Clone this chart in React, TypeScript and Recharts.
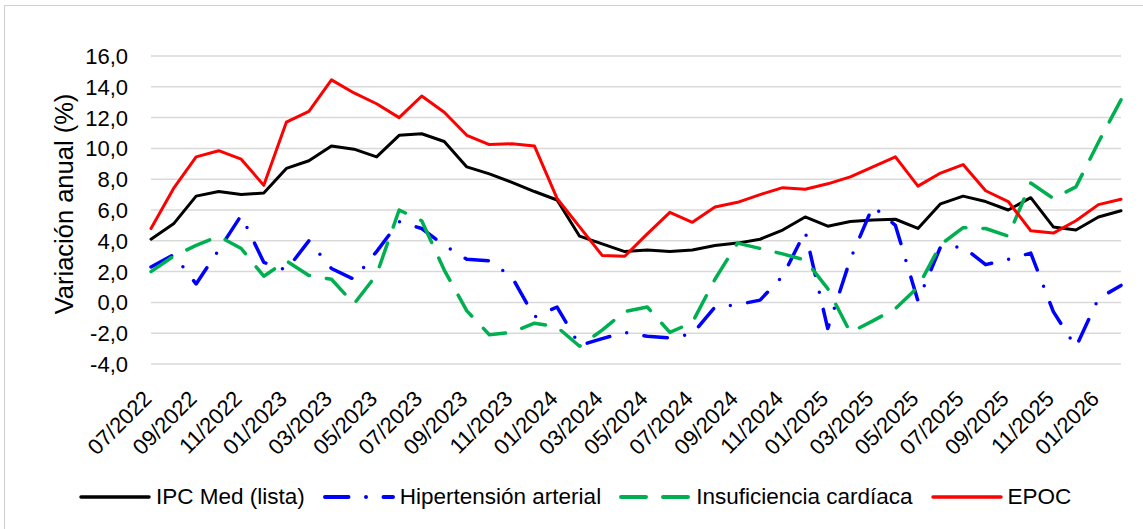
import React from 'react';
import { LineChart, Line, XAxis, YAxis, CartesianGrid } from 'recharts';

const months = [
  '07/2022', '08/2022', '09/2022', '10/2022', '11/2022', '12/2022',
  '01/2023', '02/2023', '03/2023', '04/2023', '05/2023', '06/2023',
  '07/2023', '08/2023', '09/2023', '10/2023', '11/2023', '12/2023',
  '01/2024', '02/2024', '03/2024', '04/2024', '05/2024', '06/2024',
  '07/2024', '08/2024', '09/2024', '10/2024', '11/2024', '12/2024',
  '01/2025', '02/2025', '03/2025', '04/2025', '05/2025', '06/2025',
  '07/2025', '08/2025', '09/2025', '10/2025', '11/2025', '12/2025',
  '01/2026', '02/2026',
];

const ipcMed = [
  4.1, 5.1, 6.9, 7.2, 7.0, 7.1, 8.7, 9.2, 10.15, 9.95, 9.45, 10.85,
  10.95, 10.45, 8.8, 8.35, 7.8, 7.2, 6.65, 4.3, 3.8, 3.3, 3.4, 3.3,
  3.4, 3.7, 3.85, 4.1, 4.7, 5.55, 4.95, 5.25, 5.35, 5.4, 4.8, 6.4,
  6.9, 6.55, 6.0, 6.8, 4.9, 4.7, 5.55, 5.95,
];

const hipertension = [
  2.3, 3.1, 1.2, 3.4, 5.65, 2.6, 2.1, 4.0, 2.2, 1.5, 3.3, 5.25,
  4.8, 3.7, 2.8, 2.7, 1.65, -0.95, -0.3, -2.8, -2.35, -1.95, -2.2, -2.3,
  -2.05, -0.3, -0.15, 0.15, 1.7, 4.6, -1.7, 2.8, 6.25, 5.0, 0.1, 3.6,
  3.6, 2.45, 2.8, 3.2, -0.6, -2.9, 0.25, 1.1,
];

const insuficiencia = [
  2.0, 3.0, 3.7, 4.3, 3.5, 1.7, 2.7, 1.75, 1.5, -0.1, 1.8, 6.0,
  5.3, 2.1, -0.55, -2.1, -1.95, -1.35, -1.6, -2.85, -1.8, -0.6, -0.3, -1.95,
  -1.3, 1.5, 3.85, 3.5, 3.15, 2.75, 0.9, -1.95, -1.2, -0.4, 1.0, 3.75,
  4.85, 4.8, 4.3, 7.75, 6.75, 7.5, 10.4, 13.15,
];

const epoc = [
  4.8, 7.4, 9.45, 9.85, 9.3, 7.6, 11.7, 12.4, 14.45, 13.6, 12.9, 12.0,
  13.4, 12.35, 10.85, 10.25, 10.3, 10.15, 6.75, 4.9, 3.05, 3.0, 4.45, 5.85,
  5.2, 6.2, 6.5, 7.0, 7.45, 7.35, 7.7, 8.15, 8.8, 9.45, 7.55, 8.4,
  8.95, 7.25, 6.55, 4.65, 4.5, 5.3, 6.35, 6.7,
];

const yTicks = [-4, -2, 0, 2, 4, 6, 8, 10, 12, 14, 16];

const data = months.map((m, i) => ({
  month: m,
  ipc: ipcMed[i],
  hta: hipertension[i],
  ic: insuficiencia[i],
  epoc: epoc[i],
}));

const series = [
  { key: 'ipc', name: 'IPC Med (lista)', color: '#000000', width: 3, dash: undefined as string | undefined },
  { key: 'hta', name: 'Hipertensión arterial', color: '#0000FF', width: 3.5, dash: '23.5 17.5 0 17.5' },
  { key: 'ic', name: 'Insuficiencia cardíaca', color: '#00B050', width: 3.5, dash: '25 17' },
  { key: 'epoc', name: 'EPOC', color: '#FF0000', width: 3, dash: undefined as string | undefined },
];

const FONT = '"Liberation Sans", Arial, sans-serif';

const fmt = (v: number) => v.toFixed(1).replace('.', ',');

const YTick = (props: any) => {
  const { y, payload } = props;
  return (
    <text x={128} y={y} dy="0.36em" textAnchor="end" fontSize={22} fontFamily={FONT} fill="#000">
      {fmt(payload.value)}
    </text>
  );
};

const XTick = (props: any) => {
  const { x, payload } = props;
  const ax = x + 2;
  const ay = 400;
  return (
    <text
      x={ax}
      y={ay}
      textAnchor="end"
      fontSize={22}
      fontFamily={FONT}
      fill="#000"
      transform={`rotate(-45 ${ax} ${ay})`}
    >
      {payload.value}
    </text>
  );
};

const YTitle = () => (
  <text
    x={73}
    y={204}
    textAnchor="middle"
    fontSize={25.5}
    fontFamily={FONT}
    fill="#000"
    transform="rotate(-90 73 204)"
  >
    Variación anual (%)
  </text>
);

const LegendSample = ({ s }: { s: (typeof series)[number] }) => (
  <svg width={72} height={12} style={{ display: 'block' }}>
    <line
      x1={2}
      y1={6}
      x2={70}
      y2={6}
      stroke={s.color}
      strokeWidth={s.width + 0.5}
      strokeDasharray={s.dash}
      strokeLinecap="round"
    />
  </svg>
);

export default function App() {
  return (
    <div
      style={{
        position: 'absolute',
        left: 0,
        top: 0,
        width: 1143,
        height: 529,
        overflow: 'hidden',
        background: '#fff',
      }}
    >
      <div style={{ position: 'absolute', left: 0, top: 0 }}>
        <LineChart width={1143} height={529} data={data} margin={{ top: 56, right: 22, left: 0, bottom: 65 }}>
          <CartesianGrid vertical={false} stroke="#d9d9d9" strokeWidth={1.5} />
          <XAxis
            dataKey="month"
            interval={1}
            height={100}
            axisLine={false}
            tickLine={false}
            tick={<XTick />}
          />
          <YAxis
            width={151}
            domain={[-4, 16]}
            ticks={yTicks}
            interval={0}
            axisLine={false}
            tickLine={false}
            tick={<YTick />}
            label={{ content: () => <YTitle /> }}
          />
          {series.map((s) => (
            <Line
              key={s.key}
              type="linear"
              dataKey={s.key}
              name={s.name}
              stroke={s.color}
              strokeWidth={s.width}
              strokeDasharray={s.dash}
              strokeLinecap="round"
              strokeLinejoin="round"
              dot={false}
              activeDot={false}
              isAnimationActive={false}
            />
          ))}
        </LineChart>
      </div>
      <div
        style={{
          position: 'absolute',
          left: 79,
          top: 484,
          display: 'flex',
          alignItems: 'center',
          fontFamily: FONT,
          fontSize: 22.5,
          color: '#000',
          whiteSpace: 'nowrap',
        }}
      >
        {series.map((s) => (
          <div key={s.key} style={{ display: 'flex', alignItems: 'center', marginRight: 18 }}>
            <LegendSample s={s} />
            <span style={{ marginLeft: 5 }}>{s.name}</span>
          </div>
        ))}
      </div>
      <div
        style={{
          position: 'absolute',
          left: 4,
          top: 5,
          width: 1300,
          height: 700,
          borderLeft: '1.5px solid #d0d0d0',
          borderTop: '1.5px solid #d0d0d0',
          boxSizing: 'border-box',
          pointerEvents: 'none',
        }}
      />
    </div>
  );
}
